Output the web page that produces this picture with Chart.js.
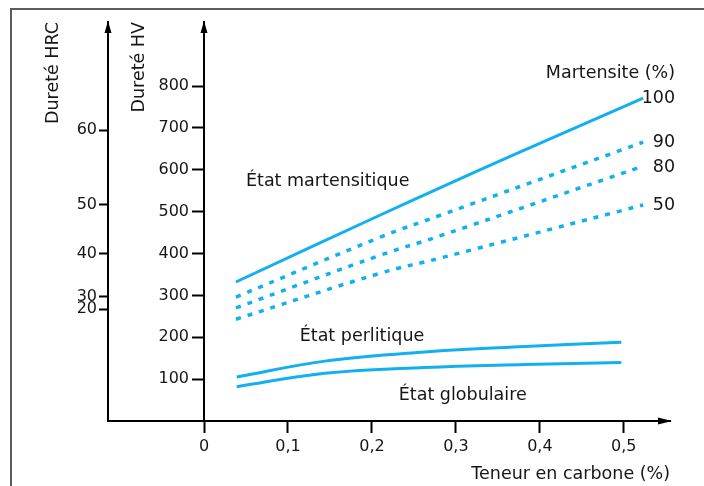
<!DOCTYPE html>
<html>
<head>
<meta charset="utf-8">
<script src="https://cdn.jsdelivr.net/npm/chart.js@4.4.0/dist/chart.umd.min.js"></script>
<style>
  html, body { margin: 0; padding: 0; background: #fff; }
  canvas { display: block; }
</style>
</head>
<body>
<canvas id="myChart" width="704" height="486"></canvas>
<script>
// axes
const carbonTicks = [0, 0.1, 0.2, 0.3, 0.4, 0.5];
const hvTicks = [100, 200, 300, 400, 500, 600, 700, 800];
const hrcTicks = [20, 30, 40, 50, 60];
const hrcAsHv = [267, 297, 400, 516, 695]; // where each HRC tick sits on the HV scale

// martensite (%) curves : carbon (%) -> HV
const m100C = [0.038, 0.21, 0.281, 0.368, 0.523];
const m100HV = [332, 492, 557, 635, 771];
const m90C = [0.038, 0.21, 0.281, 0.523];
const m90HV = [296, 439, 491, 666];
const m80C = [0.038, 0.21, 0.281, 0.519];
const m80HV = [270, 396, 442, 606];
const m50C = [0.038, 0.21, 0.281, 0.523];
const m50HV = [243, 353, 389, 516];

// pearlitic and spheroidized states
const lowC = [0.039, 0.144, 0.263, 0.382, 0.497];
const perlitHV = [105, 143, 165, 178, 188];
const globHV = [82, 114, 128, 135, 140];

const martLabels = ['100', '90', '80', '50'];

const blue = '#12b0ee';
const ink = '#161616';
const family = '"DejaVu Sans", sans-serif';

function pts(cs, vals) {
    return cs.map((c, i) => ({x: c, y: vals[i]}));
}

const solid = {yAxisID: 'hv', borderColor: blue, borderWidth: 3, pointRadius: 0, fill: false, tension: 0.4};
const dashed = {...solid, borderWidth: 3.5, borderDash: [5, 7]};

const decor = {
    id: 'decor',
    afterDraw(chart) {
        const {ctx, scales: {x, hv, hrc}} = chart;
        ctx.save();
        // frame
        ctx.strokeStyle = '#5c5c5c';
        ctx.lineWidth = 2;
        ctx.beginPath();
        ctx.moveTo(11, 486);
        ctx.lineTo(11, 9);
        ctx.lineTo(704, 9);
        ctx.stroke();

        // x axis runs on to the HRC axis
        ctx.strokeStyle = '#000';
        ctx.beginPath();
        ctx.moveTo(hrc.right - 1, x.top);
        ctx.lineTo(x.left, x.top);
        ctx.stroke();

        ctx.fillStyle = '#000';
        [hrc.right, hv.right].forEach(ax => {
            ctx.beginPath();
            ctx.moveTo(ax, hv.top - 1);
            ctx.lineTo(ax - 3.5, hv.top + 11);
            ctx.lineTo(ax + 3.5, hv.top + 11);
            ctx.closePath();
            ctx.fill();
        });
        ctx.beginPath();
        ctx.moveTo(x.right + 2, x.top);
        ctx.lineTo(x.right - 12, x.top - 3.5);
        ctx.lineTo(x.right - 12, x.top + 3.5);
        ctx.closePath();
        ctx.fill();

        // texts
        ctx.fillStyle = ink;
        ctx.font = '17.5px ' + family;
        ctx.textBaseline = 'middle';
        ctx.textAlign = 'right';
        const right = x.getPixelForValue(0.561);
        ctx.fillText('Martensite (%)', right, hv.getPixelForValue(831));
        [m100HV, m90HV, m80HV, m50HV].forEach((s, i) => {
            ctx.fillText(martLabels[i], right, hv.getPixelForValue(s[s.length - 1]));
        });
        ctx.textAlign = 'left';
        ctx.fillText('État martensitique', x.getPixelForValue(0.05), hv.getPixelForValue(571));
        ctx.fillText('État perlitique', x.getPixelForValue(0.114), hv.getPixelForValue(203));
        ctx.fillText('État globulaire', x.getPixelForValue(0.232), hv.getPixelForValue(62));
        ctx.restore();
    }
};

const tickGrid = (len) => ({
    drawOnChartArea: false,
    drawTicks: true,
    tickLength: len,
    tickWidth: 2,
    color: '#000'
});
const axisBorder = {display: true, color: '#000', width: 2};

const myChart = new Chart(document.getElementById('myChart').getContext('2d'), {
    type: 'line',
    data: {
        datasets: [
            {...solid, data: pts(m100C, m100HV)},
            {...dashed, data: pts(m90C, m90HV)},
            {...dashed, data: pts(m80C, m80HV)},
            {...dashed, data: pts(m50C, m50HV)},
            {...solid, data: pts(lowC, perlitHV)},
            {...solid, data: pts(lowC, globHV)}
        ]
    },
    options: {
        responsive: false,
        animation: false,
        layout: {padding: {left: 0, top: 22, right: 34, bottom: 0}},
        plugins: {
            legend: {display: false},
            tooltip: {enabled: false}
        },
        scales: {
            x: {
                type: 'linear',
                position: 'bottom',
                min: 0,
                max: 0.555,
                afterBuildTicks: s => { s.ticks = carbonTicks.map(v => ({value: v})); },
                afterFit: s => { s.height = 65; },
                grid: tickGrid(12),
                border: axisBorder,
                ticks: {
                    color: ink,
                    padding: 4,
                    font: {family: family, size: 16},
                    callback: v => v === 0 ? '0' : v.toFixed(1).replace('.', ',')
                },
                title: {
                    display: true,
                    text: 'Teneur en carbone (%)',
                    align: 'end',
                    color: ink,
                    font: {family: family, size: 17.5, lineHeight: 1.2},
                    padding: {top: 0, bottom: 1.5}
                }
            },
            hv: {
                type: 'linear',
                position: 'left',
                weight: 0,
                min: 0,
                max: 953,
                afterBuildTicks: s => { s.ticks = hvTicks.map(v => ({value: v})); },
                afterFit: s => { s.width = 96; },
                grid: tickGrid(12),
                border: axisBorder,
                ticks: {color: ink, padding: 3, font: {family: family, size: 16}},
                title: {
                    display: true,
                    text: 'Dureté HV',
                    align: 'end',
                    color: ink,
                    font: {family: family, size: 17.5, lineHeight: 1.2},
                    padding: {top: 20.5, bottom: 0}
                }
            },
            hrc: {
                type: 'linear',
                position: 'left',
                weight: 1,
                min: 0,
                max: 953,
                afterBuildTicks: s => { s.ticks = hrcAsHv.map(v => ({value: v})); },
                afterFit: s => { s.width = 108; },
                grid: tickGrid(9),
                border: axisBorder,
                ticks: {
                    color: ink,
                    padding: 2,
                    font: {family: family, size: 16},
                    callback: (v, i) => String(hrcTicks[i])
                },
                title: {
                    display: true,
                    text: 'Dureté HRC',
                    align: 'end',
                    color: ink,
                    font: {family: family, size: 17.5, lineHeight: 1.2},
                    padding: {top: 42.5, bottom: 0}
                }
            }
        }
    },
    plugins: [decor]
});
</script>
</body>
</html>
